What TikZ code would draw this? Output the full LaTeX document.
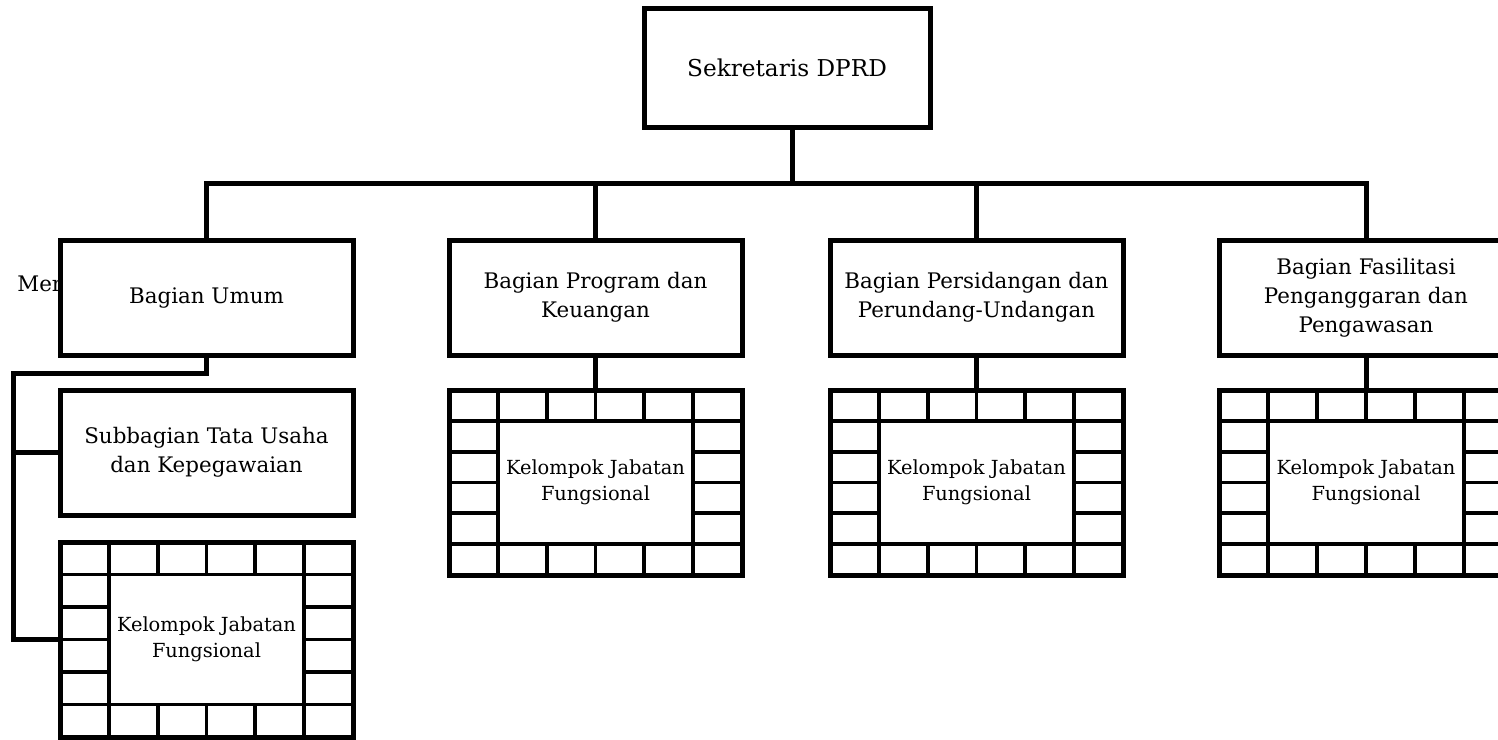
\documentclass[tikz,border=0pt]{standalone}
\usepackage{fontspec}
\setmainfont{DejaVu Serif}
\usetikzlibrary{positioning,calc}

\tikzset{
  kotak/.style={draw, line width=2.5pt, fill=white, rectangle, align=center,
    minimum width=146.5pt, minimum height=57.5pt, inner sep=2pt,
    font=\fontsize{10.7}{14.5}\selectfont},
  kjf/.style={draw, line width=2.5pt, fill=white, rectangle, align=center,
    minimum width=146.5pt, inner sep=0pt, font=\fontsize{9.7}{13}\selectfont},
  sel/.style={line width=1.9pt},
  garis/.style={line width=2.5pt},
}

% kotak kelompok jabatan fungsional: nama, kiri, atas, tinggi (px)
\newcommand{\kelompok}[4]{%
  \begin{scope}[shift={(#2,#3)}]
    \node[kjf, minimum height=#4*0.5pt] (#1) at (146.5,#4/2)
      {Kelompok Jabatan\\Fungsional};
    \foreach \i in {1,...,5} {
      \draw[sel] (\i*293/6,0) -- (\i*293/6,#4/6);
      \draw[sel] (\i*293/6,#4) -- (\i*293/6,5*#4/6);
      \draw[sel] (0,\i*#4/6) -- (293/6,\i*#4/6);
      \draw[sel] (5*293/6,\i*#4/6) -- (293,\i*#4/6);
    }
    \draw[sel] (0,#4/6) -- (293,#4/6) (0,5*#4/6) -- (293,5*#4/6);
    \draw[sel] (293/6,#4/6) -- (293/6,5*#4/6)
      (5*293/6,#4/6) -- (5*293/6,5*#4/6);
  \end{scope}}

\begin{document}
\begin{tikzpicture}[x=0.5pt, y=-0.5pt]
  \useasboundingbox (0,0) rectangle (1498,739);
  \clip (0,0) rectangle (1498,739);

  \node[anchor=west, inner sep=0pt, font=\fontsize{10.7}{14.5}\selectfont]
    (men) at (17,284) {Men};

  \node[kotak, minimum width=143pt, minimum height=59.5pt,
    font=\fontsize{11.6}{14}\selectfont] (sek) at (787,67.5) {Sekretaris DPRD};

  \node[kotak] (umum) at (206.5,297.5) {Bagian Umum};
  \node[kotak] (prog) at (595.5,297.5) {Bagian Program dan\\Keuangan};
  \node[kotak] (sidang) at (976.5,297.5)
    {Bagian Persidangan dan\\Perundang-Undangan};
  \node[kotak] (fasil) at (1366,297.5)
    {Bagian Fasilitasi\\Penganggaran dan\\Pengawasan};

  \node[kotak, minimum height=62.5pt] (sub) at (206.5,452.5)
    {Subbagian Tata Usaha\\dan Kepegawaian};

  \kelompok{kjfumum}{60}{542}{195}
  \kelompok{kjfprog}{449}{390}{185}
  \kelompok{kjfsidang}{830}{390}{185}
  \kelompok{kjffasil}{1219.5}{390}{185}

  % garis komando
  \coordinate (bus) at (792,183);
  \coordinate (kiri) at (13,373);
  \draw[garis] (bus |- sek.south) -- (bus);
  \draw[garis] (umum.north) -- (umum.north |- bus) -| (fasil.north);
  \draw[garis] (prog.north) -- (prog.north |- bus);
  \draw[garis] (sidang.north) -- (sidang.north |- bus);

  \draw[garis] (umum.south) |- (kiri) |- (kjfumum.west);
  \draw[garis] (kiri |- sub.west) -- (sub.west);

  \draw[garis] (prog.south) -- (kjfprog.north);
  \draw[garis] (sidang.south) -- (kjfsidang.north);
  \draw[garis] (fasil.south) -- (kjffasil.north);
\end{tikzpicture}
\end{document}
